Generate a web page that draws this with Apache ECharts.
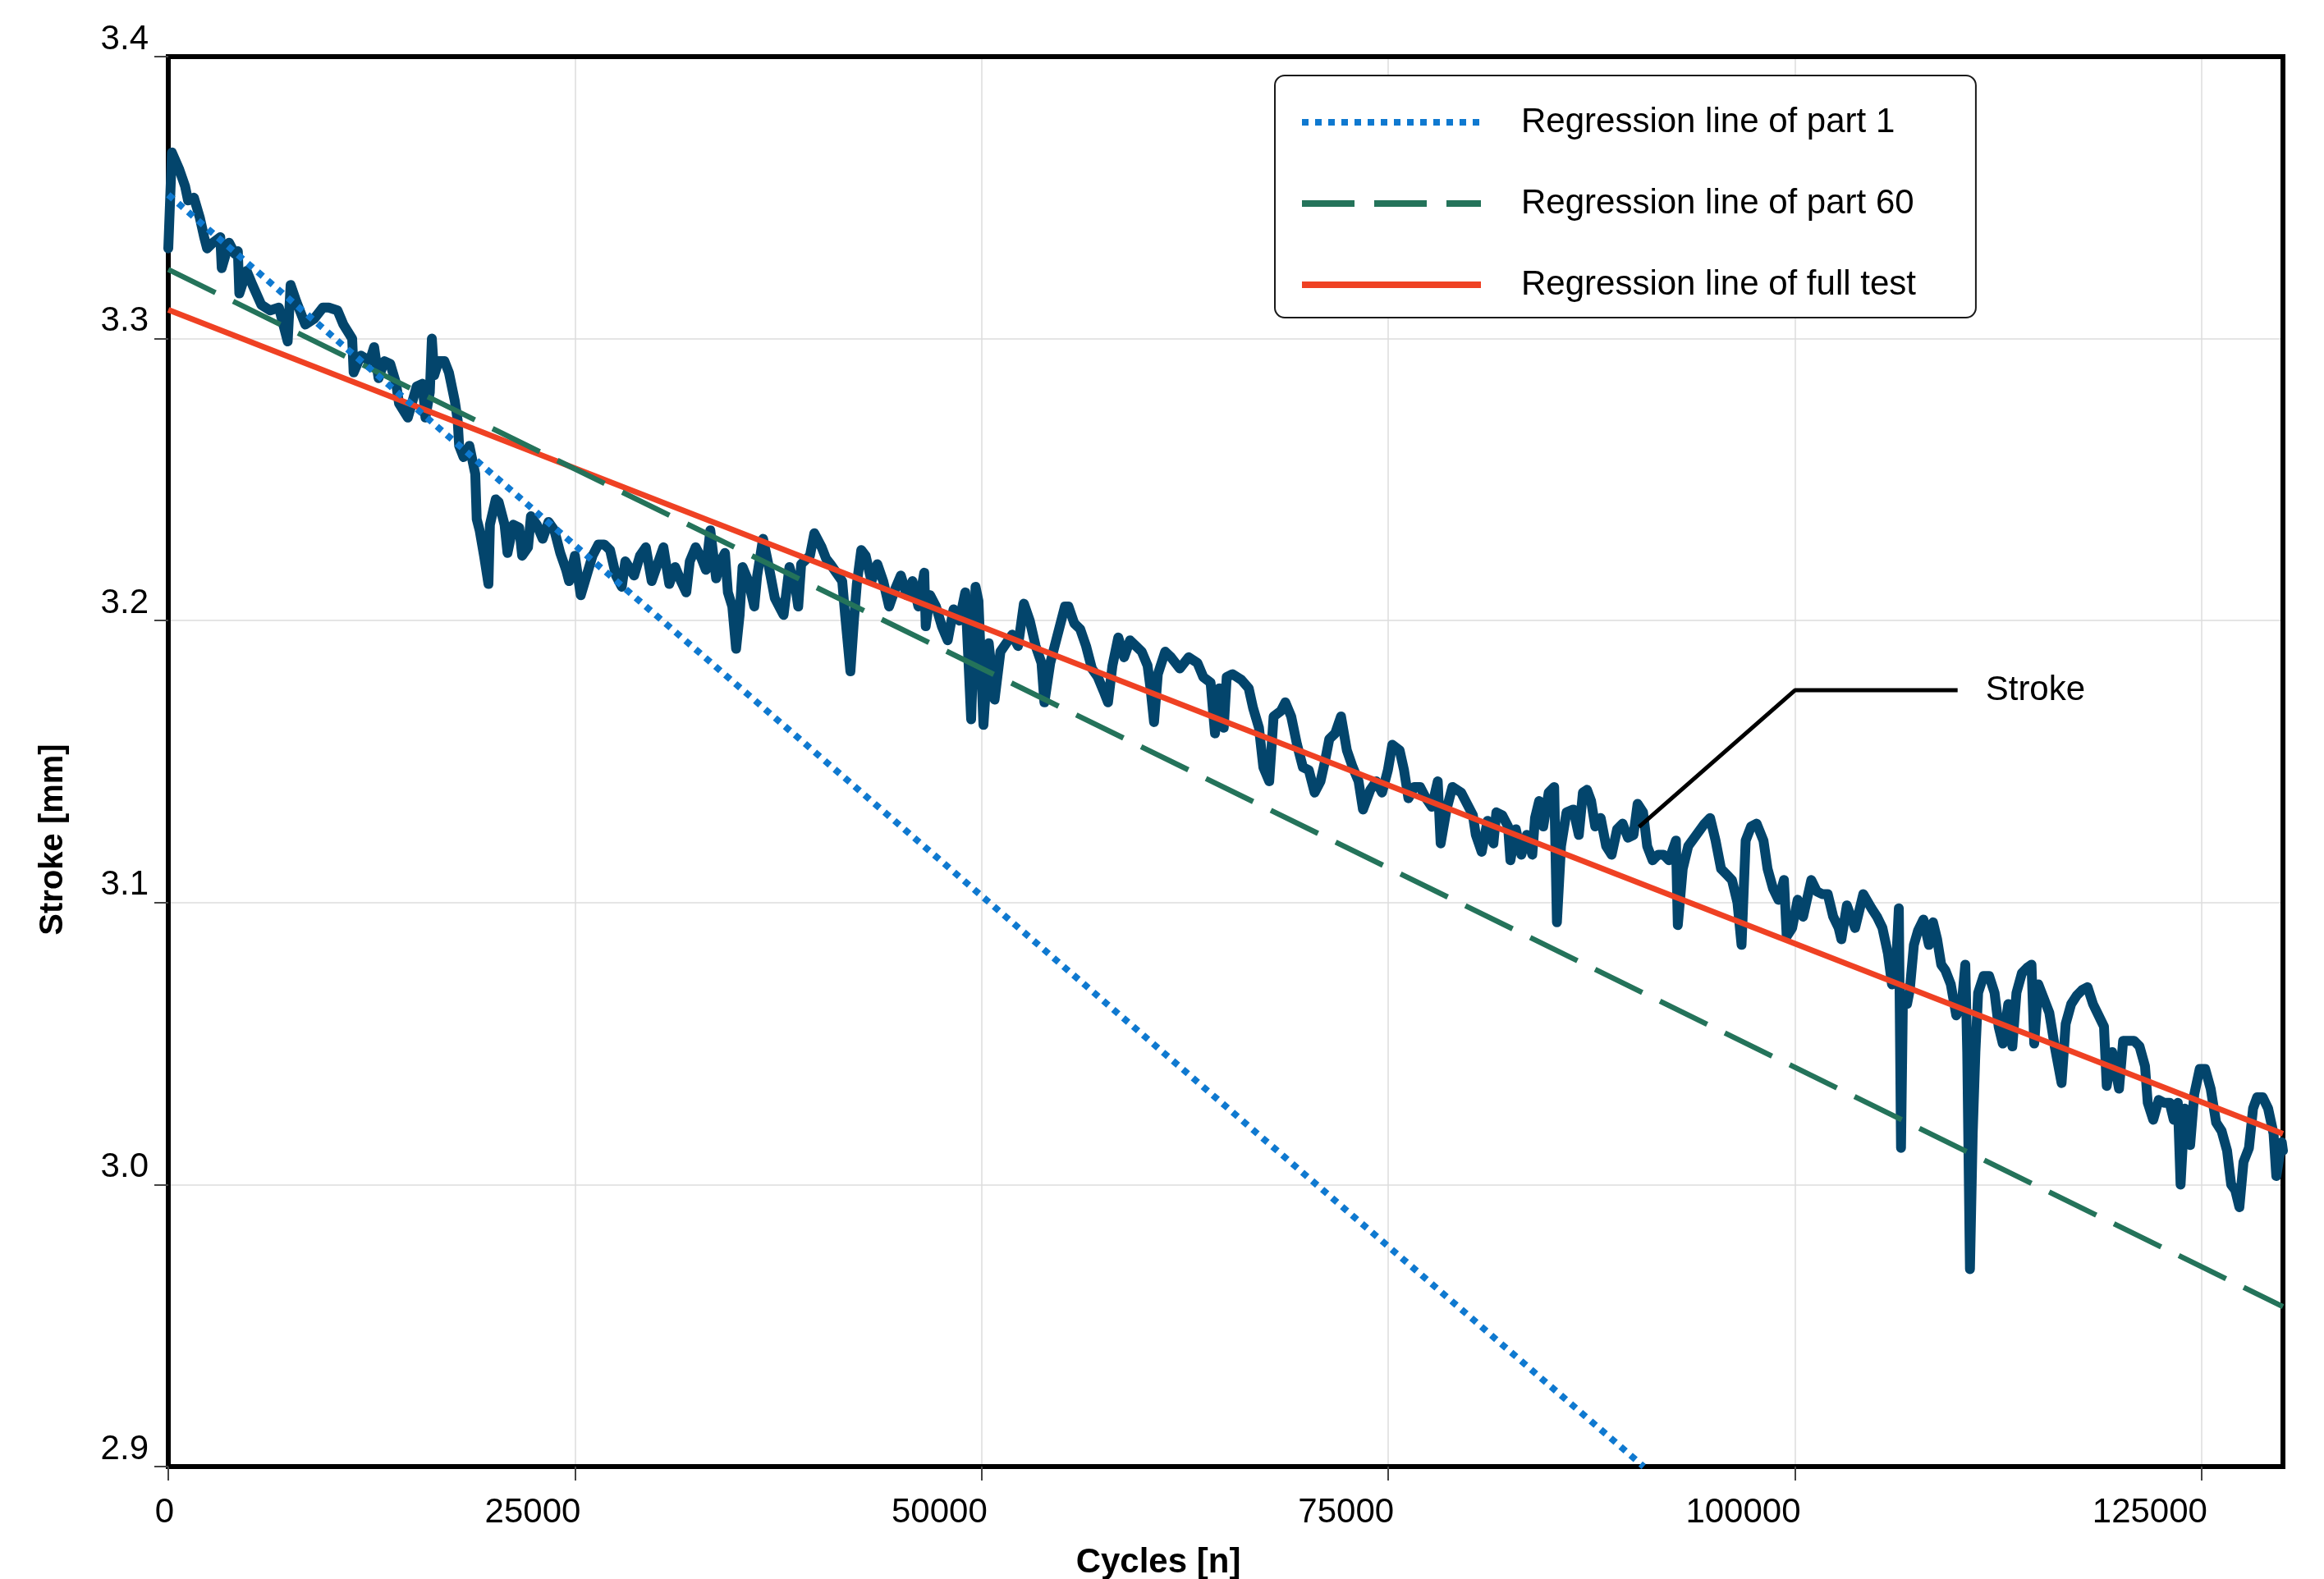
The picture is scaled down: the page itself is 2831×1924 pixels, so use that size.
<!DOCTYPE html>
<html>
<head>
<meta charset="utf-8">
<script src="https://cdn.jsdelivr.net/npm/echarts@6/dist/echarts.min.js"></script>
<style>
  html, body { margin: 0; padding: 0; background: #fff; }
  #chart { width: 2831px; height: 1924px; }
</style>
</head>
<body>
<div id="chart"></div>
<script>
// ---------- DATA ----------
const cycles = [
  0, 223, 674, 1034, 1214, 1575, 1935, 2205, 2386, 2746, 3196, 3286, 3737, 4097, 4277, 4367, 4818, 5178, 5719, 6259,
  6800, 6980, 7340, 7520, 7881, 8421, 8962, 9502, 9863, 10403, 10763, 11304, 11394, 11844, 12385, 12655, 12925, 13286, 13646, 14006,
  14187, 14727, 15268, 15628, 15808, 16078, 16204, 16349, 16619, 16979, 17250, 17610, 17790, 17880, 18150, 18511, 18871, 18961, 19141, 19412,
  19682, 19772, 20132, 20312, 20673, 20853, 21213, 21574, 21754, 22114, 22294, 22655, 23015, 23375, 23736, 24096, 24456, 24637, 24997, 25357,
  25718, 26078, 26438, 26799, 27159, 27519, 27880,
  28096, 28637, 28997, 29357, 29718, 30078, 30438, 30799, 31159, 31519, 31844, 32060, 32420, 32780, 33051, 33321, 33681, 33952, 34222, 34402,
  34672, 34906, 35123, 35303, 35663, 36024, 36204, 36564, 36924, 37285, 37645, 37825, 38186, 38546, 38726, 38906, 39447, 39717, 40167, 40438,
  40708, 41068, 41429, 41609, 41933, 42149, 42329, 42600, 42870, 43230, 43591, 43951, 44311, 44672, 45032, 45392, 45753, 46113, 46473, 46563,
  46834, 47194, 47554, 47915, 48275, 48635, 48996, 49356, 49626, 49806, 50113, 50437, 50797, 51158, 51518, 51878, 52239, 52599, 52959, 53320,
  53680, 53860, 54221, 54581, 55121,
  55338, 55698, 56059, 56419, 56779, 57140, 57500, 57770, 58041, 58401, 58761, 59122, 59482, 59842, 60203, 60383, 60599, 60833, 61284, 61644,
  62184, 62725, 63266, 63626, 64076, 64347, 64617, 64887, 65067, 65428, 65968, 66418, 66689, 67049, 67319, 67680, 67950, 68400, 68671, 69031,
  69391, 69752, 70112, 70472, 70833, 71103, 71373, 71733, 72094, 72454, 72815, 73175, 73445, 73896, 74256, 74616, 74977, 75247, 75697, 75967,
  76238, 76598, 76958, 77319, 77679, 78039, 78220, 78580, 78940, 79481, 79841, 80201, 80382, 80742, 81102, 81463, 81643, 82003, 82363,
  82508, 82844, 83181, 83517, 83853, 84021, 84273, 84526, 84862, 85199, 85367, 85619, 85955, 86376, 86712, 86964, 87216, 87469, 87721, 88057,
  88394, 88730, 89066, 89403, 89739, 90075, 90327, 90664, 90916, 91252, 91589, 91925, 92261, 92682, 92799, 93102, 93438, 93943, 94447, 94784,
  95120, 95456, 95793, 96129, 96465, 96717, 96970, 97306, 97642, 98063, 98315, 98651, 98988, 99324, 99492, 99828, 100165, 100501, 101006, 101342,
  101678, 102015, 102351, 102687, 102855, 103192, 103696, 104201, 104705, 105041, 105378, 105714, 105965, 106217, 106386, 106520,
  106638, 106890, 107058, 107311, 107563, 107899, 108235, 108488, 108740, 108992, 109244, 109581, 109917, 110253, 110472, 110590, 110758, 110926, 111094, 111262,
  111599, 111935, 112271, 112523, 112776, 113112, 113364, 113617, 113953, 114289, 114541, 114710, 114962, 115298, 115634, 115971, 116391, 116643, 116980, 117316,
  117652, 117989, 118325, 118661, 118998, 119166, 119502, 119923, 120175, 120511, 120847, 121184, 121520, 121688, 122025, 122361, 122697, 123034, 123286, 123538,
  123706, 123959, 124295, 124547, 124883, 125220, 125556, 125892, 126229, 126565, 126817, 127069, 127321, 127574, 127910, 128162, 128415, 128751, 129087, 129423,
  129592, 129928, 130000
];
const stroke = [
  3.332, 3.366, 3.360, 3.354, 3.349, 3.350, 3.343, 3.336, 3.332, 3.334, 3.336, 3.325, 3.334, 3.330, 3.331, 3.316, 3.324, 3.319, 3.312, 3.310,
  3.311, 3.307, 3.299, 3.319, 3.313, 3.305, 3.307, 3.311, 3.311, 3.310, 3.305, 3.300, 3.288, 3.294, 3.292, 3.297, 3.286, 3.292, 3.291, 3.284,
  3.277, 3.272, 3.283, 3.284, 3.272, 3.281, 3.300, 3.287, 3.292, 3.292, 3.288, 3.278, 3.271, 3.262, 3.258, 3.262, 3.252, 3.236, 3.232, 3.223,
  3.213, 3.234, 3.243, 3.242, 3.234, 3.224, 3.234, 3.233, 3.223, 3.226, 3.237, 3.234, 3.229, 3.235, 3.232, 3.224, 3.218, 3.214, 3.223, 3.209,
  3.216, 3.223, 3.227, 3.227, 3.225, 3.216, 3.212,
  3.221, 3.216, 3.223, 3.226, 3.214, 3.220, 3.226, 3.213, 3.219, 3.214, 3.210, 3.221, 3.226, 3.222, 3.218, 3.232, 3.215, 3.221, 3.224, 3.210,
  3.205, 3.190, 3.202, 3.219, 3.214, 3.205, 3.216, 3.229, 3.219, 3.208, 3.204, 3.202, 3.219, 3.212, 3.205, 3.220, 3.223, 3.231, 3.226, 3.222,
  3.220, 3.217, 3.214, 3.202, 3.182, 3.200, 3.213, 3.225, 3.223, 3.214, 3.220, 3.214, 3.205, 3.211, 3.216, 3.209, 3.214, 3.205, 3.217, 3.198,
  3.209, 3.205, 3.198, 3.193, 3.204, 3.200, 3.210, 3.165, 3.212, 3.207, 3.163, 3.192, 3.172, 3.189, 3.192, 3.195, 3.191, 3.206, 3.200, 3.191,
  3.185, 3.171, 3.185, 3.193, 3.205,
  3.205, 3.199, 3.197, 3.191, 3.183, 3.180, 3.175, 3.171, 3.184, 3.194, 3.187, 3.193, 3.191, 3.189, 3.184, 3.176, 3.164, 3.181, 3.189, 3.187,
  3.183, 3.187, 3.185, 3.180, 3.178, 3.160, 3.176, 3.162, 3.180, 3.181, 3.179, 3.176, 3.169, 3.162, 3.148, 3.143, 3.166, 3.168, 3.171, 3.166,
  3.156, 3.148, 3.147, 3.139, 3.143, 3.150, 3.158, 3.160, 3.166, 3.154, 3.148, 3.143, 3.133, 3.140, 3.143, 3.139, 3.147, 3.156, 3.154, 3.147,
  3.137, 3.141, 3.141, 3.137, 3.134, 3.143, 3.121, 3.133, 3.141, 3.139, 3.135, 3.131, 3.124, 3.118, 3.129, 3.121, 3.132, 3.131, 3.127,
  3.115, 3.126, 3.117, 3.124, 3.117, 3.130, 3.136, 3.127, 3.139, 3.141, 3.093, 3.120, 3.132, 3.133, 3.124, 3.139, 3.140, 3.136, 3.127, 3.130,
  3.120, 3.117, 3.126, 3.128, 3.123, 3.124, 3.135, 3.132, 3.120, 3.115, 3.117, 3.117, 3.115, 3.122, 3.092, 3.112, 3.120, 3.124, 3.128, 3.130,
  3.122, 3.112, 3.110, 3.108, 3.100, 3.085, 3.122, 3.127, 3.128, 3.122, 3.112, 3.105, 3.101, 3.108, 3.088, 3.091, 3.101, 3.095, 3.108, 3.104,
  3.103, 3.103, 3.095, 3.091, 3.087, 3.099, 3.091, 3.103, 3.098, 3.095, 3.091, 3.082, 3.071, 3.078, 3.098, 3.013,
  3.066, 3.064, 3.069, 3.085, 3.090, 3.094, 3.085, 3.093, 3.087, 3.078, 3.076, 3.071, 3.060, 3.064, 3.078, 3.047, 2.970, 3.018, 3.047, 3.068,
  3.074, 3.074, 3.068, 3.056, 3.050, 3.064, 3.049, 3.068, 3.075, 3.077, 3.078, 3.050, 3.071, 3.066, 3.061, 3.049, 3.036, 3.057, 3.064, 3.067,
  3.069, 3.070, 3.064, 3.060, 3.056, 3.035, 3.047, 3.034, 3.051, 3.051, 3.051, 3.049, 3.042, 3.029, 3.023, 3.030, 3.029, 3.029, 3.023, 3.029,
  3.000, 3.027, 3.014, 3.032, 3.041, 3.041, 3.034, 3.022, 3.019, 3.012, 3.000, 2.998, 2.992, 3.008, 3.013, 3.027, 3.031, 3.031, 3.027, 3.018,
  3.003, 3.015, 3.012
];

// Regression lines (end points)
const part1X = [0, 90700];
const part1Y = [3.351, 2.900];
const part60X = [0, 130000];
const part60Y = [3.3245, 2.9567];
const fullX = [0, 130000];
const fullY = [3.3102, 3.0180];

// Callout for "Stroke"
const calloutX = [90411, 100000, 110000];
const calloutY = [3.1268, 3.1753, 3.1753];

const xTicks = [0, 25000, 50000, 75000, 100000, 125000];
const yTicks = [2.9, 3.0, 3.1, 3.2, 3.3, 3.4];

const seriesNames = ['Regression line of part 1', 'Regression line of part 60', 'Regression line of full test'];
const xTitle = 'Cycles [n]';
const yTitle = 'Stroke [mm]';
const calloutLabel = 'Stroke';

// ---------- BUILD ----------
const zip = (xs, ys) => xs.map((x, i) => [x, ys[i]]);
const FONT = '"Liberation Sans", Arial, Helvetica, sans-serif';
const X_MIN = 0, X_MAX = 130000, Y_MIN = 2.9, Y_MAX = 3.4;
const borderLine = { show: true, onZero: false, lineStyle: { color: '#000', width: 6, cap: 'square' } };

const chart = echarts.init(document.getElementById('chart'), null, { renderer: 'canvas' });

const option = {
  animation: false,
  backgroundColor: '#ffffff',
  textStyle: { fontFamily: FONT },
  grid: {
    left: 205, right: 50, top: 69, bottom: 137,
    show: false, containLabel: false, outerBoundsMode: 'none'
  },
  xAxis: [
    {
      type: 'value', position: 'bottom', min: X_MIN, max: X_MAX, interval: 25000,
      axisLine: borderLine,
      axisTick: { show: true, length: 17, customValues: xTicks, lineStyle: { color: '#444', width: 2 } },
      axisLabel: {
        customValues: xTicks, fontSize: 42, color: '#000', fontFamily: FONT,
        margin: 35, align: 'right', padding: [0, -7, 0, 0],
        formatter: v => String(v)
      },
      splitLine: { show: true, lineStyle: { color: '#dcdcdc', width: 1.5 } }
    },
    {
      type: 'value', position: 'top', min: X_MIN, max: X_MAX, interval: 25000,
      axisLine: borderLine,
      axisTick: { show: false }, axisLabel: { show: false }, splitLine: { show: false }
    }
  ],
  yAxis: [
    {
      type: 'value', position: 'left', min: Y_MIN, max: Y_MAX, interval: 0.1,
      axisLine: borderLine,
      axisTick: { show: true, length: 17, customValues: yTicks, lineStyle: { color: '#444', width: 2 } },
      axisLabel: {
        customValues: yTicks, fontSize: 42, color: '#000', fontFamily: FONT,
        margin: 24, verticalAlign: 'bottom',
        formatter: v => Number(v).toFixed(1)
      },
      splitLine: { show: true, lineStyle: { color: '#dcdcdc', width: 1.5 } }
    },
    {
      type: 'value', position: 'right', min: Y_MIN, max: Y_MAX, interval: 0.1,
      axisLine: borderLine,
      axisTick: { show: false }, axisLabel: { show: false }, splitLine: { show: false }
    }
  ],
  legend: {
    data: seriesNames,
    orient: 'vertical',
    left: 1553, top: 92,
    padding: [36, 73, 19, 29],
    itemGap: 57,
    itemWidth: 218, itemHeight: 14,
    selectedMode: false,
    backgroundColor: '#ffffff',
    borderColor: '#1a1a1a', borderWidth: 2, borderRadius: 12,
    itemStyle: { opacity: 0 },
    lineStyle: { width: 8 },
    textStyle: { fontSize: 42, lineHeight: 42, color: '#000', fontFamily: FONT, padding: [0, 0, 0, 44] }
  },
  graphic: [
    {
      type: 'text', x: 1411, y: 1904, z: 10,
      style: { text: xTitle, font: 'bold 42px ' + FONT, fill: '#000', align: 'center', verticalAlign: 'middle' }
    },
    {
      type: 'text', x: 65, y: 1023, rotation: Math.PI / 2, z: 10,
      style: { text: yTitle, font: 'bold 40px ' + FONT, fill: '#000', align: 'center', verticalAlign: 'middle' }
    }
  ],
  series: [
    {
      name: 'Stroke', type: 'line', z: 2,
      data: zip(cycles, stroke),
      symbol: 'none', showSymbol: false, sampling: 'none',
      lineStyle: { color: '#03456c', width: 12, join: 'round', cap: 'round' },
      itemStyle: { color: '#03456c' }
    },
    {
      name: seriesNames[2], type: 'line', z: 3,
      data: zip(fullX, fullY),
      symbol: 'none', showSymbol: false,
      lineStyle: { color: '#ef4123', width: 7, type: 'solid', cap: 'butt' },
      itemStyle: { color: '#ef4123' }
    },
    {
      name: seriesNames[1], type: 'line', z: 4,
      data: zip(part60X, part60Y),
      symbol: 'none', showSymbol: false,
      lineStyle: { color: '#24735a', width: 6.5, type: [64, 24], cap: 'butt' },
      itemStyle: { color: '#24735a' }
    },
    {
      name: seriesNames[0], type: 'line', z: 5,
      data: zip(part1X, part1Y),
      symbol: 'none', showSymbol: false,
      lineStyle: { color: '#0f79d0', width: 8, type: [8, 8], cap: 'butt' },
      itemStyle: { color: '#0f79d0' }
    },
    {
      name: 'callout', type: 'line', z: 6,
      data: zip(calloutX, calloutY),
      symbol: 'none', showSymbol: false,
      lineStyle: { color: '#000', width: 5 },
      itemStyle: { color: '#000' },
      endLabel: {
        show: true, formatter: calloutLabel, distance: 34,
        fontSize: 42, color: '#000', fontFamily: FONT
      }
    }
  ]
};

chart.setOption(option);
</script>
</body>
</html>
